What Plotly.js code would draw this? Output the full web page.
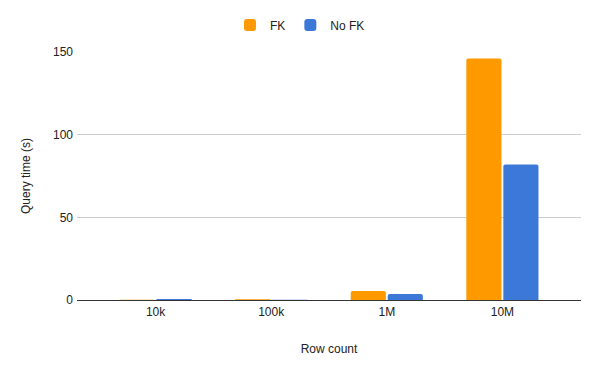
<!DOCTYPE html>
<html>
<head>
<meta charset="utf-8">
<script src="https://cdn.plot.ly/plotly-3.0.1.min.js"></script>
<style>html,body{margin:0;padding:0;background:#fff;}#chart{width:600px;height:371px;}</style>
</head>
<body>
<div id="chart"></div>
<script>
const categories = ["10k", "100k", "1M", "10M"];
const fkValues = [0.1, 0.5, 5.4, 146];
const noFkValues = [0.6, 0.1, 3.6, 82];
const yTicks = [0, 50, 100, 150];

const font = {family: "Liberation Sans, Arial, sans-serif", size: 12, color: "#222"};

const traces = [
  {type: "bar", name: "FK", x: categories, y: fkValues, marker: {color: "#ff9900"}},
  {type: "bar", name: "No FK", x: categories, y: noFkValues, marker: {color: "#3c78d8"}}
];

const layout = {
  width: 600, height: 371,
  margin: {l: 77, r: 19, t: 52, b: 71},
  paper_bgcolor: "#fff", plot_bgcolor: "#fff",
  font: font,
  barmode: "group",
  bargap: 0.36,
  bargroupgap: 0.05,
  barcornerradius: 2,
  showlegend: true,
  legend: {
    orientation: "h", xref: "container", yref: "container",
    x: 0.5, xanchor: "center", y: 1 - 25/371, yanchor: "middle",
    font: {family: font.family, size: 12, color: "#222"},
    itemwidth: 30
  },
  xaxis: {
    type: "category",
    range: [-0.68, 3.68],
    showgrid: false, showline: false, zeroline: false,
    ticks: "", tickfont: font, ticklabelstandoff: 3,
    title: {text: "Row count", font: font, standoff: 26}
  },
  yaxis: {
    range: [0, 150],
    tickvals: yTicks,
    showgrid: true, gridcolor: "#cccccc", gridwidth: 1,
    zeroline: true, zerolinecolor: "#333", zerolinewidth: 1,
    showline: false, ticks: "", tickfont: font, ticklabelstandoff: 3,
    title: {text: "Query time (s)", font: font, standoff: 19}
  }
};

Plotly.newPlot("chart", traces, layout, {staticPlot: true, displayModeBar: false});
</script>
</body>
</html>
